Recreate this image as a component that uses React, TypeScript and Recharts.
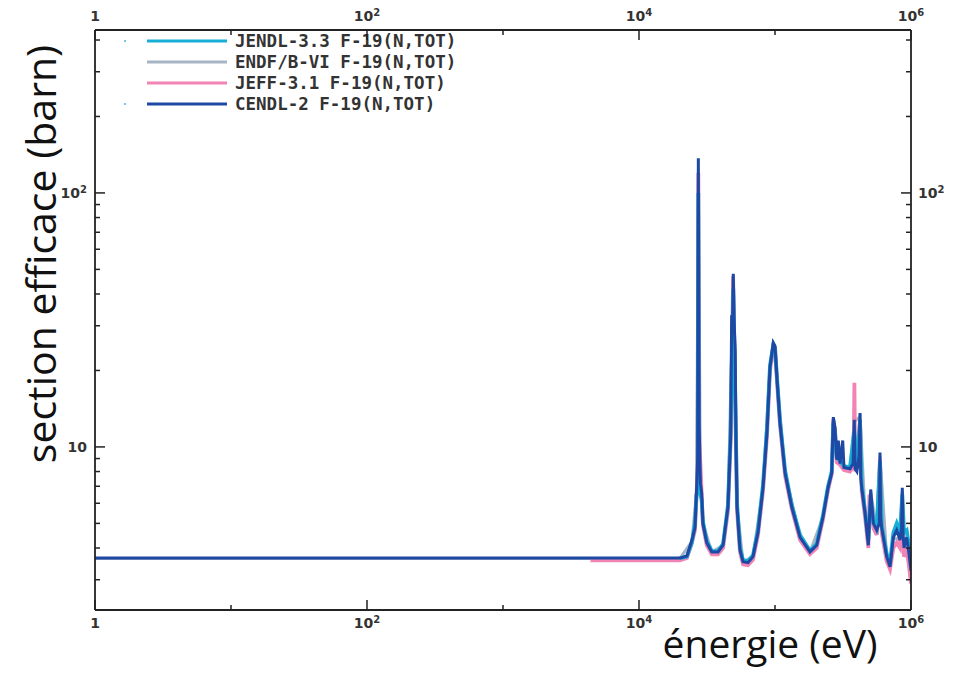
import React from 'react';
import { LineChart, Line, XAxis, YAxis, Customized } from 'recharts';

const seriesNames = ['JENDL-3.3 F-19(N,TOT)', 'ENDF/B-VI F-19(N,TOT)', 'JEFF-3.1 F-19(N,TOT)', 'CENDL-2 F-19(N,TOT)'];
const seriesColors = ['#17aed6', '#a6b4c4', '#f184b4', '#1d49a5'];

const xTicks = [1, 10, 100, 1000, 10000, 100000, 1000000];
const xLabelExp: Record<number, string> = { 1: '', 100: '2', 10000: '4', 1000000: '6' };
const yTicks = [3, 4, 5, 6, 7, 8, 9, 10, 20, 30, 40, 50, 60, 70, 80, 90, 100, 200, 300, 400];
const yLabelExp: Record<number, string> = { 10: '', 100: '2' };
const xDomain = [1, 1000000];
const yDomain = [2.28, 438];

const xTitle = 'énergie (eV)';
const yTitle = 'section efficace (barn)';

// [energy (eV), cross section (barn)]
const jendlPoints = [
  [20000, 3.65], [22500, 3.7], [24500, 4.2], [25800, 5.0], [26500, 6.5], [27000, 6.6], [27310, 100], [27500, 6.6],
  [28300, 6.5], [28900, 6.2], [29500, 5.1], [31500, 4.25], [34300, 3.9], [38100, 3.88], [41500, 4.15], [45100, 5.9],
  [47200, 11.5], [49340, 42], [51640, 11], [52600, 6.0], [55300, 4.0], [58200, 3.58], [63300, 3.55], [68900, 3.75],
  [75000, 4.7], [81600, 7.1], [87300, 11.8], [91900, 21], [97200, 25.3], [100000, 24.5], [103500, 18.7], [108900, 12.6],
  [118600, 8.1], [132800, 5.9], [152800, 4.5], [180800, 3.9], [202600, 4.15], [225500, 5.4], [245500, 7.0], [261300, 8.0],
  [268500, 12.5], [276200, 11.5], [284300, 9.1], [300600, 8.8], [321600, 8.4], [355800, 8.3], [382800, 11.5], [400000, 8.2],
  [421800, 12.8], [434200, 7.1], [459200, 5.6], [485700, 4.3], [505700, 6.2], [528600, 5.1], [559800, 4.8], [591600, 8.8],
  [609000, 4.9], [662600, 3.8], [701000, 3.5], [741700, 4.6], [785000, 5.0], [829800, 4.6], [863000, 6.5], [888800, 4.6],
  [929300, 4.7], [1000000, 3.6],
];

const endfPoints = [
  [1, 3.64], [20000, 3.64], [24500, 4.25], [26500, 6.6], [27310, 120], [28300, 7.0], [29500, 5.0], [34300, 3.86],
  [41500, 4.1], [45100, 5.8], [49340, 45], [52600, 5.8], [58200, 3.53], [68900, 3.7], [81600, 6.9], [91900, 20.5],
  [97200, 25.5], [103500, 18.4], [118600, 7.9], [152800, 4.4], [180800, 3.86], [225500, 5.3], [261300, 7.9], [268500, 13],
  [284300, 8.9], [300600, 8.6], [355800, 8.2], [382800, 12.5], [421800, 13.2], [459200, 5.5], [485700, 4.1], [505700, 6.6],
  [559800, 4.7], [591600, 9.2], [662600, 3.7], [701000, 3.4], [741700, 4.4], [829800, 4.3], [863000, 6.7], [888800, 4.1],
  [1000000, 3.3],
];

const jeffPoints = [
  [4400, 3.58], [20000, 3.58], [22500, 3.65], [24500, 4.2], [25800, 4.7], [26500, 6.5], [27000, 8.5], [27200, 40],
  [27310, 120], [27450, 40], [27700, 11], [28900, 6.5], [29500, 4.9], [31500, 4.1], [34300, 3.78], [38100, 3.78],
  [41500, 4.0], [45100, 5.6], [47200, 10.5], [49200, 47], [51640, 10], [52600, 5.6], [55300, 3.85], [58200, 3.45],
  [63300, 3.42], [68900, 3.6], [75000, 4.5], [81600, 6.7], [87300, 11.0], [91900, 20], [97200, 25], [100000, 24.5],
  [103500, 18], [108900, 12.1], [118600, 7.7], [132800, 5.7], [152800, 4.3], [180800, 3.78], [202600, 4.0], [225500, 5.2],
  [245500, 6.8], [261300, 7.8], [268500, 12.8], [276200, 11.6], [284300, 8.7], [300600, 8.5], [321600, 8.1], [355800, 8.0],
  [378000, 8.4], [383500, 17.9], [389000, 8.0], [421800, 12.5], [434200, 6.7], [459200, 5.3], [485700, 4.0], [495000, 6.5],
  [505700, 6.0], [528600, 4.8], [559800, 4.5], [591600, 9.0], [609000, 4.6], [662600, 3.55], [701000, 3.3], [741700, 4.0],
  [785000, 4.2], [829800, 4.0], [863000, 6.0], [888800, 3.7], [929300, 3.9], [960000, 3.5], [1000000, 2.9],
];

const cendlPoints = [
  [1, 3.65], [20000, 3.65], [22500, 3.72], [24500, 4.3], [25800, 4.8], [26500, 6.8], [27000, 9], [27150, 40],
  [27310, 137], [27450, 60], [27700, 12], [28300, 7.2], [28900, 6.6], [29500, 5.0], [31500, 4.2], [34300, 3.86],
  [38100, 3.86], [41500, 4.1], [45100, 5.8], [47200, 11], [48000, 33], [48700, 28], [49340, 48], [50000, 32],
  [51000, 24], [51640, 10.6], [52600, 5.8], [55300, 3.93], [58200, 3.53], [63300, 3.5], [68900, 3.7], [75000, 4.6],
  [81600, 6.9], [87300, 11.4], [91900, 20.6], [97200, 25.7], [100000, 25], [103500, 18.4], [108900, 12.4], [118600, 7.9],
  [132800, 5.8], [152800, 4.4], [180800, 3.86], [202600, 4.1], [225500, 5.3], [245500, 6.9], [261300, 7.9], [268500, 13.1],
  [276200, 11.9], [284300, 8.9], [292100, 10.6], [300600, 8.6], [314600, 10.6], [321600, 8.3], [355800, 8.2], [375000, 8.6],
  [382800, 12.8], [388000, 8.2], [400000, 8.0], [415000, 9.2], [421800, 13.6], [427000, 7.6], [434200, 6.9], [459200, 5.5],
  [485700, 4.1], [505700, 6.8], [528600, 5.0], [559800, 4.7], [585000, 5.0], [591600, 9.5], [598000, 5.3], [609000, 4.8],
  [662600, 3.7], [701000, 3.37], [741700, 4.4], [785000, 4.7], [829800, 4.3], [852000, 4.8], [863000, 6.9], [874000, 4.5],
  [888800, 4.0], [929300, 4.4], [960000, 3.9], [1000000, 3.25],
];

const toRows = (pts: number[][]) => pts.map(([e, s]) => ({ e, s }));
const seriesData = [jendlPoints, endfPoints, jeffPoints, cendlPoints].map(toRows);
const drawOrder = [1, 2, 0, 3];
const strokeWidths = [3.8, 3, 3.8, 3];

const W = 958;
const H = 673;
// axes are 1px thick, so plot area spans x 95..911, y 30..610
const margin = { top: 29, right: 46, bottom: 62, left: 94 };

const AX = '#222';
const LBL = '#333';
const tickFont = { fontFamily: 'DejaVu Sans, sans-serif', fontWeight: 700, fontSize: 14, fill: LBL } as const;

const Pow = ({ x, y, exp, anchor, base }: any) => (
  <text x={x} y={y} textAnchor={anchor} {...tickFont}>
    {base}
    {exp ? <tspan dy={-5} fontSize={10}>{exp}</tspan> : null}
  </text>
);

const xLabelText = (v: number) => (v === 1 ? '1' : '10');

const XTick = (top: boolean) => (props: any) => {
  const { x, y, payload } = props;
  const v = payload.value;
  const major = v in xLabelExp;
  const len = major ? 10 : 5;
  const dir = top ? 1 : -1;
  return (
    <g>
      <line x1={x} x2={x} y1={y} y2={y + dir * len} stroke={AX} strokeWidth={1.5} />
      {major ? <Pow x={x} y={top ? y - 9 : y + 18} anchor="middle" base={xLabelText(v)} exp={xLabelExp[v]} /> : null}
    </g>
  );
};

const YTick = (right: boolean) => (props: any) => {
  const { x, y, payload } = props;
  const v = payload.value;
  const major = v in yLabelExp;
  const len = major ? 10 : 5;
  const dir = right ? -1 : 1;
  return (
    <g>
      <line x1={x} x2={x + dir * len} y1={y} y2={y} stroke={AX} strokeWidth={1.5} />
      {major ? (
        <Pow x={right ? x + 7 : x - 8} y={y + 5} anchor={right ? 'start' : 'end'} base="10" exp={yLabelExp[v]} />
      ) : null}
    </g>
  );
};

const Decorations = () => {
  const rowY = [41, 62, 83, 104];
  return (
    <g>
      {seriesNames.map((name, i) => (
        <g key={name}>
          {i === 0 || i === 3 ? <circle cx={125} cy={rowY[i]} r={1} fill="#3bbbe6" /> : null}
          <line x1={147} x2={227} y1={rowY[i]} y2={rowY[i]} stroke={seriesColors[i]} strokeWidth={3} />
          <text
            x={235}
            y={rowY[i] + 6}
            fontFamily="DejaVu Sans Mono, monospace"
            fontWeight={700}
            fontSize={17.5}
            fill={LBL}
          >
            {name}
          </text>
        </g>
      ))}
      <text
        x={40}
        y={254}
        transform="rotate(-90 40 254)"
        textAnchor="middle"
        dominantBaseline="central"
        fontFamily="Open Sans, sans-serif"
        fontSize={41}
        fill="#111"
      >
        {yTitle}
      </text>
      <text x={770} y={658} textAnchor="middle" fontFamily="Open Sans, sans-serif" fontSize={39} fill="#111">
        {xTitle}
      </text>
    </g>
  );
};

export default function App() {
  return (
    <div style={{ position: 'absolute', left: 0, top: 0, width: W, height: H, background: '#fff' }}>
      <LineChart width={W} height={H} margin={margin}>
        <XAxis
          xAxisId="b"
          dataKey="e"
          type="number"
          scale="log"
          domain={xDomain}
          allowDataOverflow
          ticks={xTicks}
          orientation="bottom"
          height={1}
          tickSize={0}
          tickMargin={0}
          tickLine={false}
          axisLine={{ stroke: AX, strokeWidth: 1.8 }}
          tick={XTick(false)}
          interval={0}
        />
        <XAxis
          xAxisId="t"
          dataKey="e"
          type="number"
          scale="log"
          domain={xDomain}
          allowDataOverflow
          ticks={xTicks}
          orientation="top"
          height={1}
          tickSize={0}
          tickMargin={0}
          tickLine={false}
          axisLine={{ stroke: AX, strokeWidth: 1.8 }}
          tick={XTick(true)}
          interval={0}
        />
        <YAxis
          yAxisId="l"
          dataKey="s"
          type="number"
          scale="log"
          domain={yDomain}
          allowDataOverflow
          ticks={yTicks}
          orientation="left"
          width={1}
          tickSize={0}
          tickMargin={0}
          tickLine={false}
          axisLine={{ stroke: AX, strokeWidth: 1.8 }}
          tick={YTick(false)}
          interval={0}
        />
        <YAxis
          yAxisId="r"
          dataKey="s"
          type="number"
          scale="log"
          domain={yDomain}
          allowDataOverflow
          ticks={yTicks}
          orientation="right"
          width={1}
          tickSize={0}
          tickMargin={0}
          tickLine={false}
          axisLine={{ stroke: AX, strokeWidth: 1.8 }}
          tick={YTick(true)}
          interval={0}
        />
        {drawOrder.map((i) => (
          <Line
            key={seriesNames[i]}
            xAxisId="b"
            yAxisId="l"
            data={seriesData[i]}
            dataKey="s"
            type="linear"
            stroke={seriesColors[i]}
            strokeWidth={strokeWidths[i]}
            dot={false}
            activeDot={false}
            isAnimationActive={false}
            strokeLinejoin="miter"
          />
        ))}
        <Customized component={<Decorations />} />
      </LineChart>
    </div>
  );
}
